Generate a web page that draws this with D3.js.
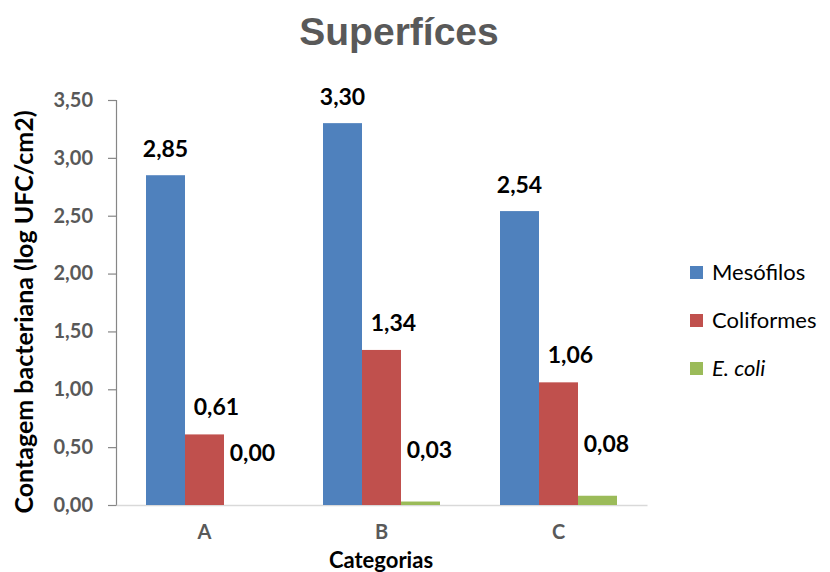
<!DOCTYPE html>
<html>
<head>
<meta charset="utf-8">
<script src="https://cdn.jsdelivr.net/npm/d3@7"></script>
<style>
  html, body { margin: 0; padding: 0; background: #fff; }
  svg { display: block; }
</style>
</head>
<body>
<svg id="chart" width="830" height="572"></svg>
<script>
// Data
const categories = ["A", "B", "C"];
const seriesNames = ["Mesófilos", "Coliformes", "E. coli"];
const mesofilos = [2.85, 3.30, 2.54];
const coliformes = [0.61, 1.34, 1.06];
const ecoli = [0.00, 0.03, 0.08];
const yTicks = [0, 0.5, 1, 1.5, 2, 2.5, 3, 3.5];

const seriesValues = [mesofilos, coliformes, ecoli];
const colors = ["#4F81BD", "#C0504D", "#9BBB59"];

const svg = d3.select("#chart");
const fmt = v => d3.format(".2f")(v).replace(".", ",");

const plot = { left: 116, right: 647, top: 100, bottom: 505 };

const y = d3.scaleLinear().domain([0, 3.5]).range([plot.bottom, plot.top]);
const x0 = d3.scaleBand().domain(categories).range([plot.left, plot.right])
  .paddingInner(0.339).paddingOuter(0.1695);
const x1 = d3.scaleBand().domain(d3.range(seriesNames.length)).range([0, x0.bandwidth()]);

const font = "Lato, 'Open Sans', sans-serif";

// Title
svg.append("text")
  .attr("x", 399).attr("y", 45)
  .attr("text-anchor", "middle")
  .style("font-family", "'Liberation Sans', Arial, sans-serif")
  .style("font-weight", "bold").style("font-size", "39px")
  .attr("fill", "#595959")
  .text("Superfíces");

// Y axis
const yAxis = d3.axisLeft(y).tickValues(yTicks).tickFormat(fmt).tickSizeOuter(0).tickSize(8).tickPadding(15);
const gy = svg.append("g").attr("transform", `translate(${plot.left},0)`).call(yAxis);
gy.select(".domain").attr("stroke", "#868686").attr("stroke-width", 1.2);
gy.selectAll(".tick line").attr("stroke", "#868686").attr("stroke-width", 1.2);
gy.selectAll(".tick text")
  .style("font-family", font).style("font-weight", "bold").style("font-size", "20px")
  .attr("fill", "#595959");

// X axis
const xAxis = d3.axisBottom(x0).tickSize(0).tickPadding(20);
const gx = svg.append("g").attr("transform", `translate(0,${plot.bottom})`).call(xAxis);
gx.select(".domain").attr("stroke", "#D9D9D9").attr("stroke-width", 1.5);
gx.selectAll(".tick text")
  .style("font-family", font).style("font-weight", "bold").style("font-size", "20px")
  .attr("fill", "#595959");

// Bars
const groups = svg.append("g").selectAll("g").data(categories).join("g")
  .attr("transform", d => `translate(${x0(d)},0)`);

groups.selectAll("rect")
  .data((c, ci) => seriesValues.map((vals, si) => ({ si, v: vals[ci] })))
  .join("rect")
  .attr("x", d => x1(d.si))
  .attr("width", x1.bandwidth())
  .attr("y", d => y(d.v))
  .attr("height", d => plot.bottom - y(d.v))
  .attr("fill", d => colors[d.si]);

// Value labels
const labelDx = [0, 12, 9];
const labelDy = [18, 19, 44];
groups.selectAll("text.val")
  .data((c, ci) => seriesValues.map((vals, si) => ({ si, v: vals[ci] })))
  .join("text")
  .attr("class", "val")
  .attr("x", d => x1(d.si) + x1.bandwidth() / 2 + labelDx[d.si])
  .attr("y", d => y(d.v) - labelDy[d.si])
  .attr("text-anchor", "middle")
  .style("font-family", font).style("font-weight", "bold").style("font-size", "23px")
  .attr("fill", "#000")
  .text(d => fmt(d.v));

// Axis titles
svg.append("text")
  .attr("transform", `translate(33,312) rotate(-90)`)
  .attr("text-anchor", "middle")
  .style("font-family", font).style("font-weight", "bold").style("font-size", "25px")
  .attr("fill", "#000")
  .text("Contagem bacteriana (log UFC/cm2)");

svg.append("text")
  .attr("x", 381).attr("y", 568)
  .attr("text-anchor", "middle")
  .style("font-family", font).style("font-weight", "bold").style("font-size", "22px")
  .attr("fill", "#000")
  .text("Categorias");

// Legend
const legend = svg.append("g").selectAll("g").data(seriesNames).join("g")
  .attr("transform", (d, i) => `translate(690,${272 + i * 48})`);
legend.append("rect")
  .attr("x", 0).attr("y", -6).attr("width", 13).attr("height", 13)
  .attr("fill", (d, i) => colors[i]);
legend.append("text")
  .attr("x", 22).attr("y", 8)
  .style("font-family", font).style("font-size", "22px")
  .style("font-style", (d, i) => i === 2 ? "italic" : "normal")
  .attr("fill", "#000")
  .text(d => d);
</script>
</body>
</html>
